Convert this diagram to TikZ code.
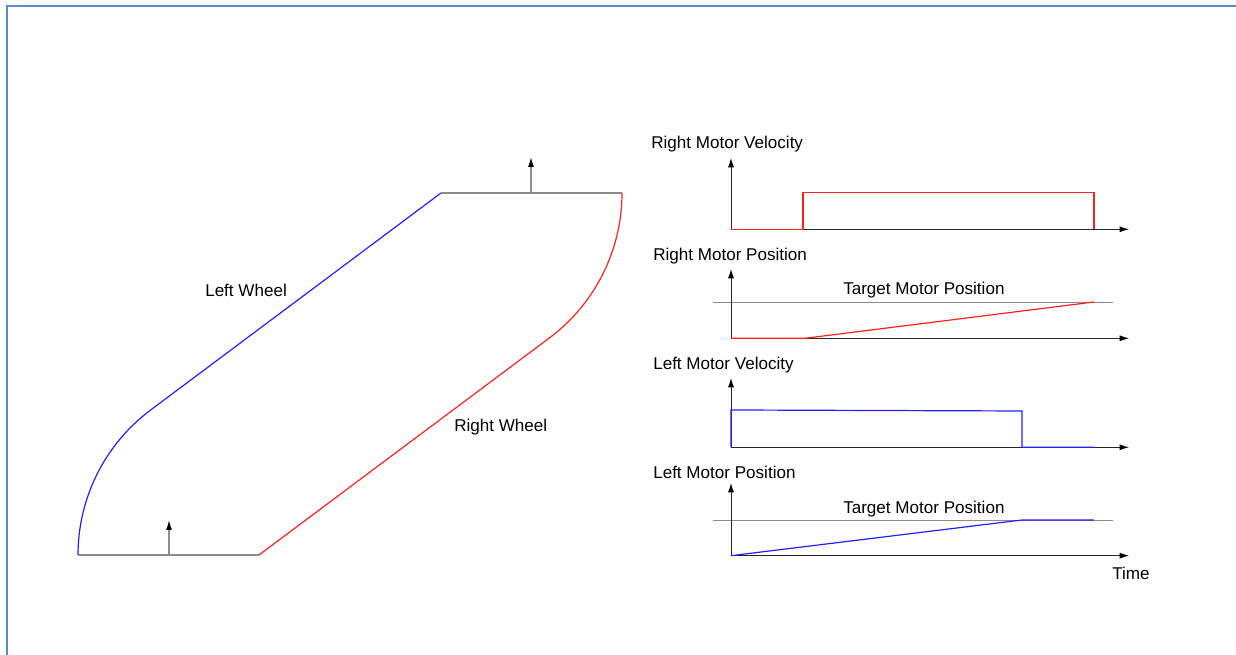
\documentclass[tikz,border=0pt]{standalone}
\usepackage{fontspec}
\setmainfont{Liberation Sans}
\usetikzlibrary{arrows.meta}
\definecolor{frameblue}{HTML}{5B8BC9}
\definecolor{wheelblue}{HTML}{2020FF}
\definecolor{wheelred}{HTML}{FF2020}
\begin{document}
\begin{tikzpicture}[x=0.75pt,y=0.75pt,
  lbl/.style={font=\fontsize{12.8}{15}\selectfont, inner sep=0pt, anchor=base west},
  ax/.style={draw=black!85, line width=0.7pt, -{Latex[length=7pt,width=4.5pt,color=black]}},
  bodyline/.style={draw=black!45, line width=1pt},
  pivot/.style={draw=black!45, line width=1pt, -{Latex[length=7.5pt,width=4.5pt,color=black]}},
  lwheel/.style={draw=wheelblue, line width=0.9pt},
  rwheel/.style={draw=wheelred, line width=0.9pt},
  target/.style={draw=black!45, line width=0.5pt},
  frame/.style={draw=frameblue, line width=1.6pt}
]
\useasboundingbox (0,0) rectangle (1236,655);
% frame
\draw[frame] (1236,649) -- (7,649) -- (7,0);

% ---- robot path ----
\coordinate (b1) at (78,100);
\coordinate (b2) at (259,100);
\coordinate (t1) at (441,462);
\coordinate (t2) at (622,462);
\draw[bodyline] (b1) -- (b2);
\draw[bodyline] (t1) -- (t2);
\draw[pivot] (169,100) -- (169,135);
\draw[pivot] (531,462) -- (531,498);
\draw[lwheel] (b1) arc[start angle=180,end angle=127,radius=181] coordinate (la) -- (t1);
\draw[rwheel] (t2) arc[start angle=0,end angle=-53,radius=181] coordinate (ra) -- (b2);
\node[lbl] (lw) at (205,358) {Left Wheel};
\node[lbl] (rw) at (454,223) {Right Wheel};

% ---- graph 1: right motor velocity ----
\node[lbl] (g1t) at (651,506) {Right Motor Velocity};
\coordinate (o1) at (731,425.7);
\draw[ax] (o1) -- (731,497);
\draw[ax] (o1) -- (1129,425.7);
\draw[rwheel] (o1) -- (803,425.7) -- (803,462.3) -- (1094,462.3) -- (1094,425.7);

% ---- graph 2: right motor position ----
\node[lbl] (g2t) at (653,394) {Right Motor Position};
\coordinate (o2) at (731,316.7);
\draw[target] (713,353) -- (1113,353);
\node[lbl] (g2x) at (843,360) {Target Motor Position};
\draw[ax] (o2) -- (731,386);
\draw[ax] (o2) -- (1129,316.7);
\draw[rwheel] (o2) -- (805,316.7) -- (1094,353);

% ---- graph 3: left motor velocity ----
\node[lbl] (g3t) at (653,285.7) {Left Motor Velocity};
\coordinate (o3) at (731,207.7);
\draw[ax] (o3) -- (731,277);
\draw[ax] (o3) -- (1129,207.7);
\draw[lwheel] (o3) -- (731,245) -- (1022,244) -- (1022,207.7) -- (1094,207.7);

% ---- graph 4: left motor position ----
\node[lbl] (g4t) at (653,176.7) {Left Motor Position};
\coordinate (o4) at (731,99.3);
\draw[target] (713,135) -- (1113,135);
\node[lbl] (g4x) at (843,141.7) {Target Motor Position};
\draw[ax] (o4) -- (731,172);
\draw[ax] (o4) -- (1129,99.3);
\draw[lwheel] (o4) -- (1022,135) -- (1094,135);
\node[lbl] (time) at (1112,75) {Time};
\end{tikzpicture}
\end{document}
